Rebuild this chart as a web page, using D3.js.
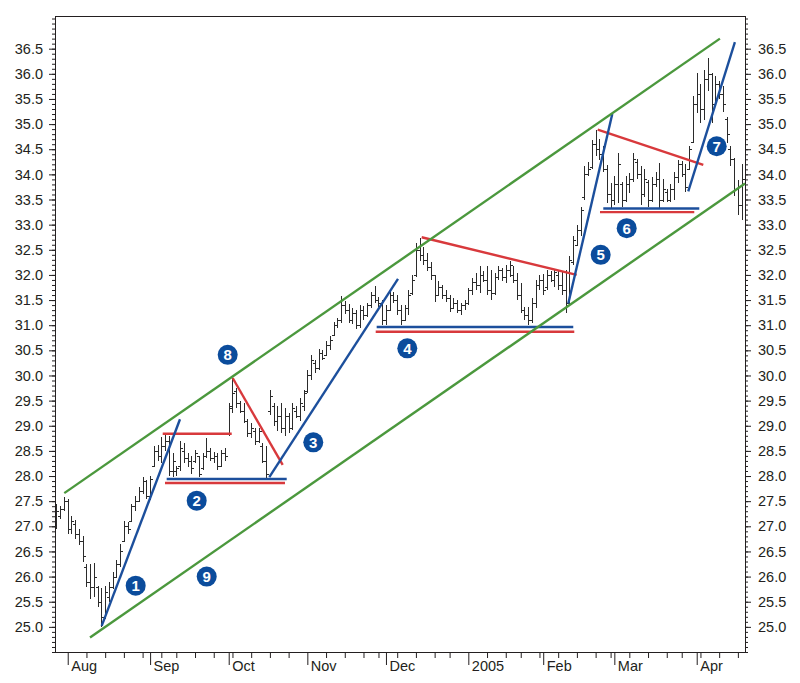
<!DOCTYPE html>
<meta charset="utf-8">
<script src="https://d3js.org/d3.v7.min.js"></script>
<style>
  body { margin: 0; background: #fff; }
  text { font-family: "Liberation Sans", Arial, Helvetica, sans-serif; }
</style>
<div id="chart"></div>
<script>

// daily price bars, one per trading day from 28 Jul 2004
var opens = [
  27.00, 27.20, 27.35, 27.50, 26.95, 27.05, 26.85, 26.70, 26.20, 25.90,
  25.80, 25.80, 25.50, 25.20, 25.60, 25.80, 26.00, 26.25, 26.70, 27.00,
  27.10, 27.40, 27.50, 27.70, 27.90, 27.60, 28.20, 28.50, 28.40, 28.60,
  28.70, 28.10, 28.10, 28.20, 28.50, 28.35, 28.30, 28.30, 28.40, 28.15,
  28.40, 28.50, 28.35, 28.40, 28.20, 28.45, 28.85, 29.40, 29.70, 29.45,
  29.30, 29.10, 28.85, 28.90, 28.70, 28.60, 28.30, 29.30, 29.40, 29.10,
  29.20, 28.95, 29.20, 28.95, 29.30, 29.20, 29.40, 29.70, 30.00, 30.25,
  30.15, 30.45, 30.40, 30.60, 30.80, 31.00, 31.10, 31.40, 31.30, 31.10,
  31.25, 31.00, 31.30, 31.20, 31.40, 31.60, 31.50, 31.45, 31.10, 31.30,
  31.60, 31.50, 31.30, 31.10, 31.35, 31.65, 32.00, 32.50, 32.40, 32.30,
  32.15, 32.00, 31.60, 31.75, 31.60, 31.55, 31.35, 31.45, 31.30, 31.40,
  31.45, 31.70, 31.85, 31.80, 32.00, 31.90, 31.70, 31.65, 31.95, 32.10,
  31.95, 32.10, 32.00, 31.90, 31.60, 31.30, 31.20, 31.10, 31.45, 31.80,
  31.90, 31.75, 32.00, 31.90, 32.00, 31.80, 31.70, 31.45, 32.25, 32.60,
  32.90, 33.55, 34.00, 34.15, 34.60, 34.50, 34.40, 34.10, 33.60, 33.50,
  33.80, 33.80, 33.50, 33.80, 33.90, 34.25, 34.00, 33.60, 33.85, 33.50,
  33.80, 33.90, 33.50, 33.65, 33.50, 33.70, 33.95, 34.20, 34.00, 34.10,
  34.65, 35.40, 35.60, 35.30, 35.90, 36.00, 35.40, 35.80, 35.60, 35.10,
  34.50, 34.30, 33.70, 33.40
];
var highs = [
  27.45, 27.40, 27.58, 27.55, 27.20, 27.12, 26.95, 26.80, 26.25, 26.25,
  26.28, 25.82, 25.78, 25.82, 25.90, 26.10, 26.32, 26.65, 27.10, 27.08,
  27.45, 27.60, 27.78, 27.98, 27.92, 28.00, 28.60, 28.62, 28.78, 28.85,
  28.80, 28.45, 28.20, 28.70, 28.65, 28.45, 28.40, 28.52, 28.40, 28.45,
  28.75, 28.55, 28.48, 28.45, 28.52, 28.55, 29.45, 29.95, 29.75, 29.50,
  29.45, 29.13, 29.05, 28.95, 28.95, 28.65, 28.60, 29.72, 29.45, 29.40,
  29.45, 29.35, 29.25, 29.45, 29.40, 29.55, 29.72, 30.10, 30.40, 30.30,
  30.52, 30.50, 30.68, 30.78, 31.07, 31.15, 31.58, 31.48, 31.42, 31.35,
  31.30, 31.40, 31.38, 31.45, 31.66, 31.77, 31.57, 31.51, 31.40, 31.70,
  31.66, 31.61, 31.41, 31.41, 31.70, 32.00, 32.63, 32.73, 32.55, 32.43,
  32.25, 32.00, 31.87, 31.80, 31.71, 31.61, 31.54, 31.50, 31.45, 31.51,
  31.74, 31.94, 32.04, 32.17, 32.07, 32.17, 32.10, 32.04, 32.17, 32.14,
  32.20, 32.27, 32.17, 32.04, 31.84, 31.37, 31.37, 31.55, 31.90, 32.00,
  32.02, 32.10, 32.08, 32.10, 32.08, 32.05, 32.10, 32.37, 32.77, 33.00,
  33.36, 34.16, 34.25, 34.69, 34.89, 34.70, 34.56, 34.19, 33.83, 33.96,
  34.42, 33.85, 33.96, 34.03, 34.42, 34.30, 34.16, 34.10, 33.88, 33.95,
  34.05, 34.23, 33.90, 33.70, 33.80, 34.05, 34.29, 34.26, 34.20, 34.56,
  35.55, 36.02, 35.80, 36.08, 36.31, 36.02, 35.95, 35.85, 35.75, 35.15,
  34.56, 34.32, 33.89, 34.20
];
var lows = [
  26.95, 27.15, 27.30, 26.85, 26.85, 26.75, 26.62, 26.30, 25.80, 25.55,
  25.60, 25.40, 25.00, 25.15, 25.50, 25.75, 25.98, 26.20, 26.70, 26.85,
  27.10, 27.30, 27.50, 27.65, 27.55, 27.52, 28.18, 28.30, 28.25, 28.50,
  28.00, 27.98, 28.00, 28.10, 28.25, 28.18, 28.05, 28.25, 27.98, 28.12,
  28.35, 28.30, 28.25, 28.12, 28.18, 28.30, 28.80, 29.25, 29.35, 29.25,
  29.05, 28.78, 28.75, 28.62, 28.65, 28.25, 27.95, 29.22, 29.00, 28.90,
  28.85, 28.80, 28.85, 28.92, 29.15, 29.10, 29.30, 29.65, 29.92, 30.05,
  30.10, 30.30, 30.38, 30.50, 30.80, 30.95, 31.05, 31.22, 31.05, 31.02,
  30.92, 30.95, 31.10, 31.17, 31.34, 31.44, 31.37, 31.01, 31.00, 31.28,
  31.45, 31.21, 31.00, 31.08, 31.21, 31.60, 31.95, 32.27, 32.20, 32.07,
  31.90, 31.47, 31.58, 31.52, 31.47, 31.27, 31.34, 31.25, 31.21, 31.30,
  31.41, 31.60, 31.70, 31.64, 31.85, 31.60, 31.51, 31.60, 31.90, 31.87,
  31.84, 31.95, 31.84, 31.51, 31.24, 31.10, 31.00, 31.05, 31.35, 31.70,
  31.60, 31.70, 31.85, 31.75, 31.70, 31.60, 31.25, 31.45, 32.20, 32.57,
  32.77, 33.50, 33.96, 34.10, 34.36, 34.29, 34.05, 33.43, 33.33, 33.40,
  33.43, 33.36, 33.45, 33.63, 33.85, 33.90, 33.40, 33.55, 33.35, 33.45,
  33.75, 33.32, 33.45, 33.45, 33.45, 33.50, 33.83, 33.95, 33.65, 34.09,
  34.62, 35.22, 35.02, 35.09, 35.65, 35.02, 35.35, 35.50, 35.25, 34.62,
  34.16, 33.56, 33.20, 33.10
];
var closes = [
  27.30, 27.35, 27.50, 26.95, 27.10, 26.85, 26.70, 26.40, 25.90, 25.80,
  26.00, 25.50, 25.20, 25.70, 25.80, 26.00, 26.25, 26.50, 27.00, 26.95,
  27.40, 27.50, 27.70, 27.90, 27.60, 27.95, 28.50, 28.40, 28.60, 28.70,
  28.10, 28.30, 28.15, 28.55, 28.35, 28.30, 28.15, 28.45, 28.05, 28.40,
  28.50, 28.35, 28.40, 28.20, 28.45, 28.40, 29.35, 29.65, 29.45, 29.30,
  29.10, 28.85, 28.95, 28.70, 28.90, 28.30, 28.05, 29.60, 29.10, 29.20,
  28.95, 29.20, 28.95, 29.35, 29.20, 29.45, 29.65, 30.00, 30.30, 30.15,
  30.45, 30.35, 30.60, 30.70, 31.00, 31.10, 31.40, 31.30, 31.10, 31.25,
  31.00, 31.30, 31.20, 31.40, 31.60, 31.50, 31.45, 31.10, 31.30, 31.60,
  31.50, 31.30, 31.10, 31.35, 31.60, 31.90, 32.50, 32.40, 32.30, 32.15,
  32.00, 31.60, 31.75, 31.60, 31.55, 31.35, 31.45, 31.30, 31.40, 31.45,
  31.70, 31.85, 31.80, 32.00, 31.90, 31.70, 31.65, 31.95, 32.10, 31.95,
  32.10, 32.20, 31.90, 31.60, 31.30, 31.20, 31.10, 31.45, 31.80, 31.90,
  31.70, 32.00, 31.90, 32.05, 31.80, 31.70, 31.40, 32.30, 32.70, 32.90,
  33.30, 34.00, 34.10, 34.60, 34.50, 34.40, 34.10, 33.60, 33.50, 33.80,
  34.20, 33.50, 33.80, 33.90, 34.30, 34.00, 33.60, 33.90, 33.50, 33.80,
  33.90, 33.50, 33.70, 33.50, 33.70, 33.95, 34.20, 34.00, 33.75, 34.50,
  35.40, 35.60, 35.30, 35.90, 36.00, 35.30, 35.80, 35.60, 35.40, 34.80,
  34.30, 33.70, 33.40, 33.90
];

// exchange holidays inside the period
var holidays = ["2004-09-06", "2004-11-25", "2004-12-24", "2005-01-17", "2005-02-21", "2005-03-25"];
var monthNames = ["2005", "Feb", "Mar", "Apr", "May", "Jun", "Jul", "Aug", "Sep", "Oct", "Nov", "Dec"];

// y axis ticks
var majorTicks = d3.range(50, 74).map(d => d / 2);
var minorTicks = d3.range(245, 372).map(d => d / 10);

// drawn lines as [day1, price1, day2, price2]
var channelLines = [
  [2.08, 27.66, 177.2, 36.70],
  [8.95, 24.79, 183.9, 33.82]
];
var blueLines = [
  [12.07, 25.02, 32.99, 29.13],
  [29.43, 27.94, 61.49, 27.94],
  [56.84, 27.98, 91.21, 31.92],
  [85.52, 30.965, 138.03, 30.965],
  [136.7, 31.43, 148.45, 35.20],
  [146.05, 33.32, 171.69, 33.32],
  [168.75, 33.66, 181.2, 36.63]
];
var redLines = [
  [28.37, 28.84, 46.8, 28.84],
  [28.98, 27.86, 61.03, 27.86],
  [47.06, 29.95, 60.42, 28.22],
  [85.26, 30.87, 138.3, 30.87],
  [97.54, 32.75, 138.94, 32.00],
  [144.55, 34.89, 172.76, 34.19],
  [145.17, 33.25, 170.35, 33.25]
];

// numbered markers as [day, price, label]
var markers = [
  [21.15, 25.82, "1"],
  [37.45, 27.51, "2"],
  [68.59, 28.67, "3"],
  [93.7, 30.54, "4"],
  [145.35, 32.40, "5"],
  [152.3, 32.93, "6"],
  [176.34, 34.56, "7"],
  [45.73, 30.41, "8"],
  [40.12, 26.00, "9"]
];

var plot = {left: 55, right: 745, top: 16, bottom: 652};
var ink = "#231f20";

var svg = d3.select("#chart")
  .append("svg")
    .attr("width", 800)
    .attr("height", 683);

// trading days
var fmt = d3.timeFormat("%Y-%m-%d");
var days = d3.timeDay.range(new Date(2004, 6, 28), new Date(2005, 4, 1))
  .filter(d => d.getDay() > 0 && d.getDay() < 6 && holidays.indexOf(fmt(d)) < 0)
  .slice(0, closes.length);

var x = d3.scaleLinear()
  .domain([-0.4, 183.9])
  .range([plot.left, plot.right]);
var y = d3.scaleLinear()
  .domain([24.5, 37.15])
  .range([plot.bottom, plot.top]);

// month starts and week starts
var monthIdx = [], weekIdx = [];
days.forEach(function(d, i) {
  if (i == 0) return;
  var p = days[i - 1];
  if (d.getMonth() != p.getMonth()) monthIdx.push(i);
  else if (d.getDay() < p.getDay()) weekIdx.push(i);
});

// left axis
svg.append("g")
  .attr("transform", "translate(" + plot.left + ",0)")
  .call(d3.axisLeft(y).tickValues(minorTicks).tickSize(3).tickFormat(""));
svg.append("g")
  .attr("transform", "translate(" + plot.left + ",0)")
  .call(d3.axisLeft(y).tickValues(majorTicks).tickSize(6).tickPadding(6).tickFormat(d3.format(".1f")));

// right axis
svg.append("g")
  .attr("transform", "translate(" + plot.right + ",0)")
  .call(d3.axisRight(y).tickValues(minorTicks).tickSize(3).tickFormat(""));
svg.append("g")
  .attr("transform", "translate(" + plot.right + ",0)")
  .call(d3.axisRight(y).tickValues(majorTicks).tickSize(6).tickPadding(7).tickFormat(d3.format(".1f")));

// bottom axis
svg.append("g")
  .attr("transform", "translate(0," + plot.bottom + ")")
  .call(d3.axisBottom(x).tickValues(weekIdx).tickSize(6).tickFormat(""));
var xa = svg.append("g")
  .attr("transform", "translate(0," + plot.bottom + ")")
  .call(d3.axisBottom(x).tickValues(monthIdx).tickSize(13)
    .tickFormat(i => monthNames[days[i].getMonth()]));
xa.selectAll("text")
  .attr("text-anchor", "start")
  .attr("x", 3)
  .attr("y", 9)
  .attr("dy", "0.71em");

svg.selectAll(".domain").remove();
svg.selectAll(".tick line").attr("stroke", ink);
svg.selectAll(".tick text")
  .attr("fill", ink)
  .style("font-size", "14.5px");

// frame
svg.append("rect")
  .attr("x", plot.left + 0.5)
  .attr("y", plot.top + 0.5)
  .attr("width", plot.right - plot.left)
  .attr("height", plot.bottom - plot.top)
  .attr("fill", "none")
  .attr("stroke", ink);

// price bars
var bars = svg.append("g")
  .attr("stroke", "#2b2b2b")
  .attr("stroke-width", 1)
  .attr("fill", "none")
  .style("shape-rendering", "crispEdges");
bars.selectAll("path")
  .data(closes)
  .enter()
  .append("path")
    .attr("d", function(c, i) {
      var cx = Math.round(x(i)) + 0.5;
      return "M" + cx + "," + y(highs[i]) + "V" + y(lows[i]) +
        "M" + (cx - 2.5) + "," + Math.round(y(opens[i])) + "H" + cx +
        "M" + cx + "," + Math.round(y(c)) + "H" + (cx + 2.5);
    });

// drawn lines
function drawLines(list, color) {
  svg.append("g")
    .selectAll("line")
    .data(list)
    .enter()
    .append("line")
      .attr("x1", d => x(d[0]))
      .attr("y1", d => y(d[1]))
      .attr("x2", d => x(d[2]))
      .attr("y2", d => y(d[3]))
      .attr("stroke", color)
      .attr("stroke-width", 2.4);
}
drawLines(redLines, "#d8393c");
drawLines(blueLines, "#1c4f9c");
drawLines(channelLines, "#4b983d");

// numbered markers
var mk = svg.append("g")
  .selectAll("g")
  .data(markers)
  .enter()
  .append("g")
    .attr("transform", d => "translate(" + x(d[0]) + "," + y(d[1]) + ")");
mk.append("circle")
  .attr("r", 10)
  .attr("fill", "#0b4c9c");
mk.append("text")
  .attr("text-anchor", "middle")
  .attr("dy", "0.36em")
  .attr("fill", "#fff")
  .style("font-size", "15px")
  .style("font-weight", "bold")
  .text(d => d[2]);

</script>
